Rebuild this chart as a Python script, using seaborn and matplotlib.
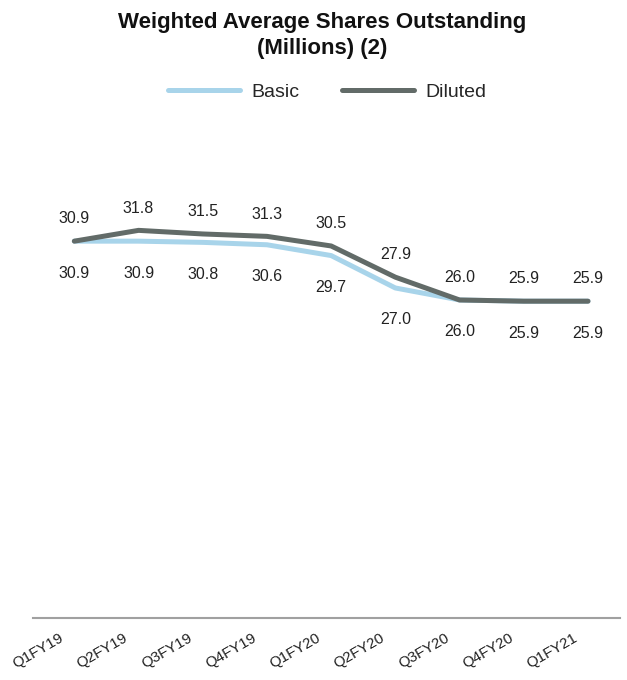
import numpy as np
import pandas as pd
import matplotlib
matplotlib.use('Agg')
import matplotlib.pyplot as plt
import matplotlib.transforms as mtransforms
import seaborn as sns
from matplotlib.lines import Line2D

# Dados (milhões de ações)
trimestres = ['Q1FY19', 'Q2FY19', 'Q3FY19', 'Q4FY19', 'Q1FY20',
              'Q2FY20', 'Q3FY20', 'Q4FY20', 'Q1FY21']
basic = [30.9, 30.9, 30.8, 30.6, 29.7, 27.0, 26.0, 25.9, 25.9]
diluted = [30.9, 31.8, 31.5, 31.3, 30.5, 27.9, 26.0, 25.9, 25.9]

cor_basic = '#a8d4ea'
cor_diluted = '#626b68'

sns.set_theme(style='white')
plt.rcParams['font.family'] = ['Liberation Sans', 'DejaVu Sans']

df = pd.DataFrame({'Trimestre': trimestres, 'Basic': basic, 'Diluted': diluted})
df_long = df.melt(id_vars='Trimestre', var_name='Serie', value_name='Valor')

fig = plt.figure(figsize=(6.27, 6.80), dpi=100)
ax = fig.add_axes([0.053, 0.091, 0.936, 0.715])

sns.lineplot(data=df_long, x='Trimestre', y='Valor', hue='Serie',
             palette={'Basic': cor_basic, 'Diluted': cor_diluted},
             linewidth=3.6, sort=False, ax=ax, legend=False)

x = np.arange(len(trimestres))
for xi, v in zip(x, diluted):
    ax.annotate(f'{v:.1f}', (xi, v), textcoords='offset points', xytext=(0, 16),
                ha='center', va='center', fontsize=11.5, color='#222222')
for xi, v in zip(x, basic):
    ax.annotate(f'{v:.1f}', (xi, v), textcoords='offset points', xytext=(0, -23),
                ha='center', va='center', fontsize=11.5, color='#222222')

ax.set_xlim(-0.64, 8.5)
ax.set_ylim(-0.5, 40)
ax.set_yticks([])
ax.set_xlabel('')
ax.set_ylabel('')
ax.set_xticks(x)
ax.set_xticklabels(trimestres, rotation=30, ha='right', rotation_mode='anchor',
                   fontsize=10.8, color='#222222')
ax.tick_params(axis='x', length=0, pad=9)
desloc = mtransforms.ScaledTranslation(-11 / 72, 0, fig.dpi_scale_trans)
for rotulo in ax.get_xticklabels():
    rotulo.set_transform(rotulo.get_transform() + desloc)
for lado in ['top', 'right', 'left']:
    ax.spines[lado].set_visible(False)
ax.spines['bottom'].set_color('#a0a0a0')
ax.spines['bottom'].set_linewidth(1.5)

# Legenda
handles = [Line2D([0], [0], color=cor_basic, lw=3.6),
           Line2D([0], [0], color=cor_diluted, lw=3.6)]
fig.legend(handles, ['Basic', 'Diluted'], loc='center', bbox_to_anchor=(0.522, 0.865),
           ncol=2, frameon=False, fontsize=14, handlelength=3.7,
           handletextpad=0.57, columnspacing=2.2)

fig.text(0.514, 0.948, 'Weighted Average Shares Outstanding\n(Millions) (2)',
         ha='center', va='center', fontsize=16, fontweight='bold',
         linespacing=1.3, color='#111111')

plt.savefig('out.png', dpi=100)
plt.close()
